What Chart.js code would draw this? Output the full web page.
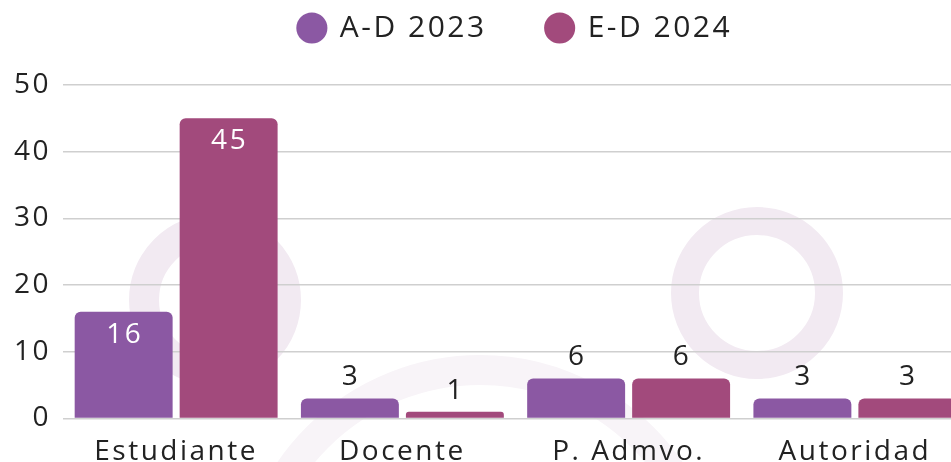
<!DOCTYPE html>
<html>
<head>
<meta charset="utf-8">
<script src="https://cdn.jsdelivr.net/npm/chart.js@4.4.1/dist/chart.umd.min.js"></script>
<style>
  html, body { margin: 0; padding: 0; background: #fff; overflow: hidden; }
  #wrap { position: relative; width: 951px; height: 462px; overflow: hidden; }
  .ring { position: absolute; border-radius: 50%; box-sizing: border-box; border-style: solid; }
  canvas { position: absolute; left: 0; top: 0; }
</style>
</head>
<body>
<div id="wrap">
  <!-- faint decorative rings behind the chart -->
  <div class="ring" style="left:129px;top:214px;width:172px;height:172px;border-width:30px;border-color:#f2eaf2;"></div>
  <div class="ring" style="left:671px;top:207px;width:172px;height:172px;border-width:28px;border-color:#f2eaf2;"></div>
  <div class="ring" style="left:235px;top:355px;width:490px;height:490px;border-width:30px;border-color:#f8f4f8;"></div>
  <canvas id="chart" width="970" height="462"></canvas>
</div>
<script>
const categories = ['Estudiante', 'Docente', 'P. Admvo.', 'Autoridad'];
const seriesNames = ['A-D 2023', 'E-D 2024'];
const values2023 = [16, 3, 6, 3];
const values2024 = [45, 1, 6, 3];
const yMin = 0;
const yMax = 50;
const yStep = 10;

const colors = ['#8b58a3', '#a24a7c'];
const fontFamily = "'Open Sans', sans-serif";
const textColor = '#222222';
const spacing = '2.5px';

// wider lettering, closer to the original typeface
const letterSpacing = {
	id: 'letterSpacing',
	beforeUpdate(chart) { chart.ctx.letterSpacing = spacing; },
	beforeDraw(chart) { chart.ctx.letterSpacing = spacing; }
};

// value labels: inside the bar (white) when tall, above it (dark) otherwise
const valueLabels = {
	id: 'valueLabels',
	afterDatasetsDraw(chart) {
		const ctx = chart.ctx;
		ctx.save();
		ctx.font = '28px ' + fontFamily;
		ctx.textAlign = 'center';
		ctx.textBaseline = 'middle';
		chart.data.datasets.forEach((ds, i) => {
			const meta = chart.getDatasetMeta(i);
			meta.data.forEach((bar, j) => {
				const v = ds.data[j];
				if (v >= 10) {
					ctx.fillStyle = '#ffffff';
					ctx.fillText(v, bar.x + 1, bar.y + 23);
				} else {
					ctx.fillStyle = textColor;
					ctx.fillText(v, bar.x + 1, bar.y - 21);
				}
			});
		});
		ctx.restore();
	}
};

let ctx = document.getElementById('chart').getContext('2d');

let chart = new Chart(ctx, {
	type: 'bar',
	data: {
		labels: categories,
		datasets: [{
			label: seriesNames[0],
			data: values2023,
			backgroundColor: colors[0],
			borderRadius: 6,
			barPercentage: 0.933,
			categoryPercentage: 0.928
		}, {
			label: seriesNames[1],
			data: values2024,
			backgroundColor: colors[1],
			borderRadius: 6,
			barPercentage: 0.933,
			categoryPercentage: 0.928
		}]
	},
	options: {
		responsive: false,
		animation: false,
		layout: {
			padding: { top: -47, left: 2, right: 2, bottom: -24 }
		},
		plugins: {
			tooltip: { enabled: false },
			legend: {
				position: 'top',
				fullSize: false,
				labels: {
					usePointStyle: true,
					pointStyle: 'circle',
					boxWidth: 26,
					boxHeight: 22,
					padding: 60,
					color: textColor,
					font: { family: fontFamily, size: 30 }
				}
			}
		},
		scales: {
			x: {
				grid: { display: false, drawTicks: false },
				border: { display: false },
				ticks: {
					color: textColor,
					padding: 17,
					font: { family: fontFamily, size: 28 }
				}
			},
			// empty top axis, only used as a spacer under the legend
			xTop: {
				type: 'category',
				position: 'top',
				grid: { display: false },
				border: { display: false },
				ticks: { display: false },
				afterFit(scale) { scale.height = 32; }
			},
			y: {
				min: yMin,
				max: yMax,
				border: { display: false },
				grid: { color: '#cfcfcf', lineWidth: 1.5, drawTicks: false },
				ticks: {
					stepSize: yStep,
					color: textColor,
					padding: 12,
					font: { family: fontFamily, size: 28 }
				}
			}
		}
	},
	plugins: [letterSpacing, valueLabels]
});
</script>
</body>
</html>
